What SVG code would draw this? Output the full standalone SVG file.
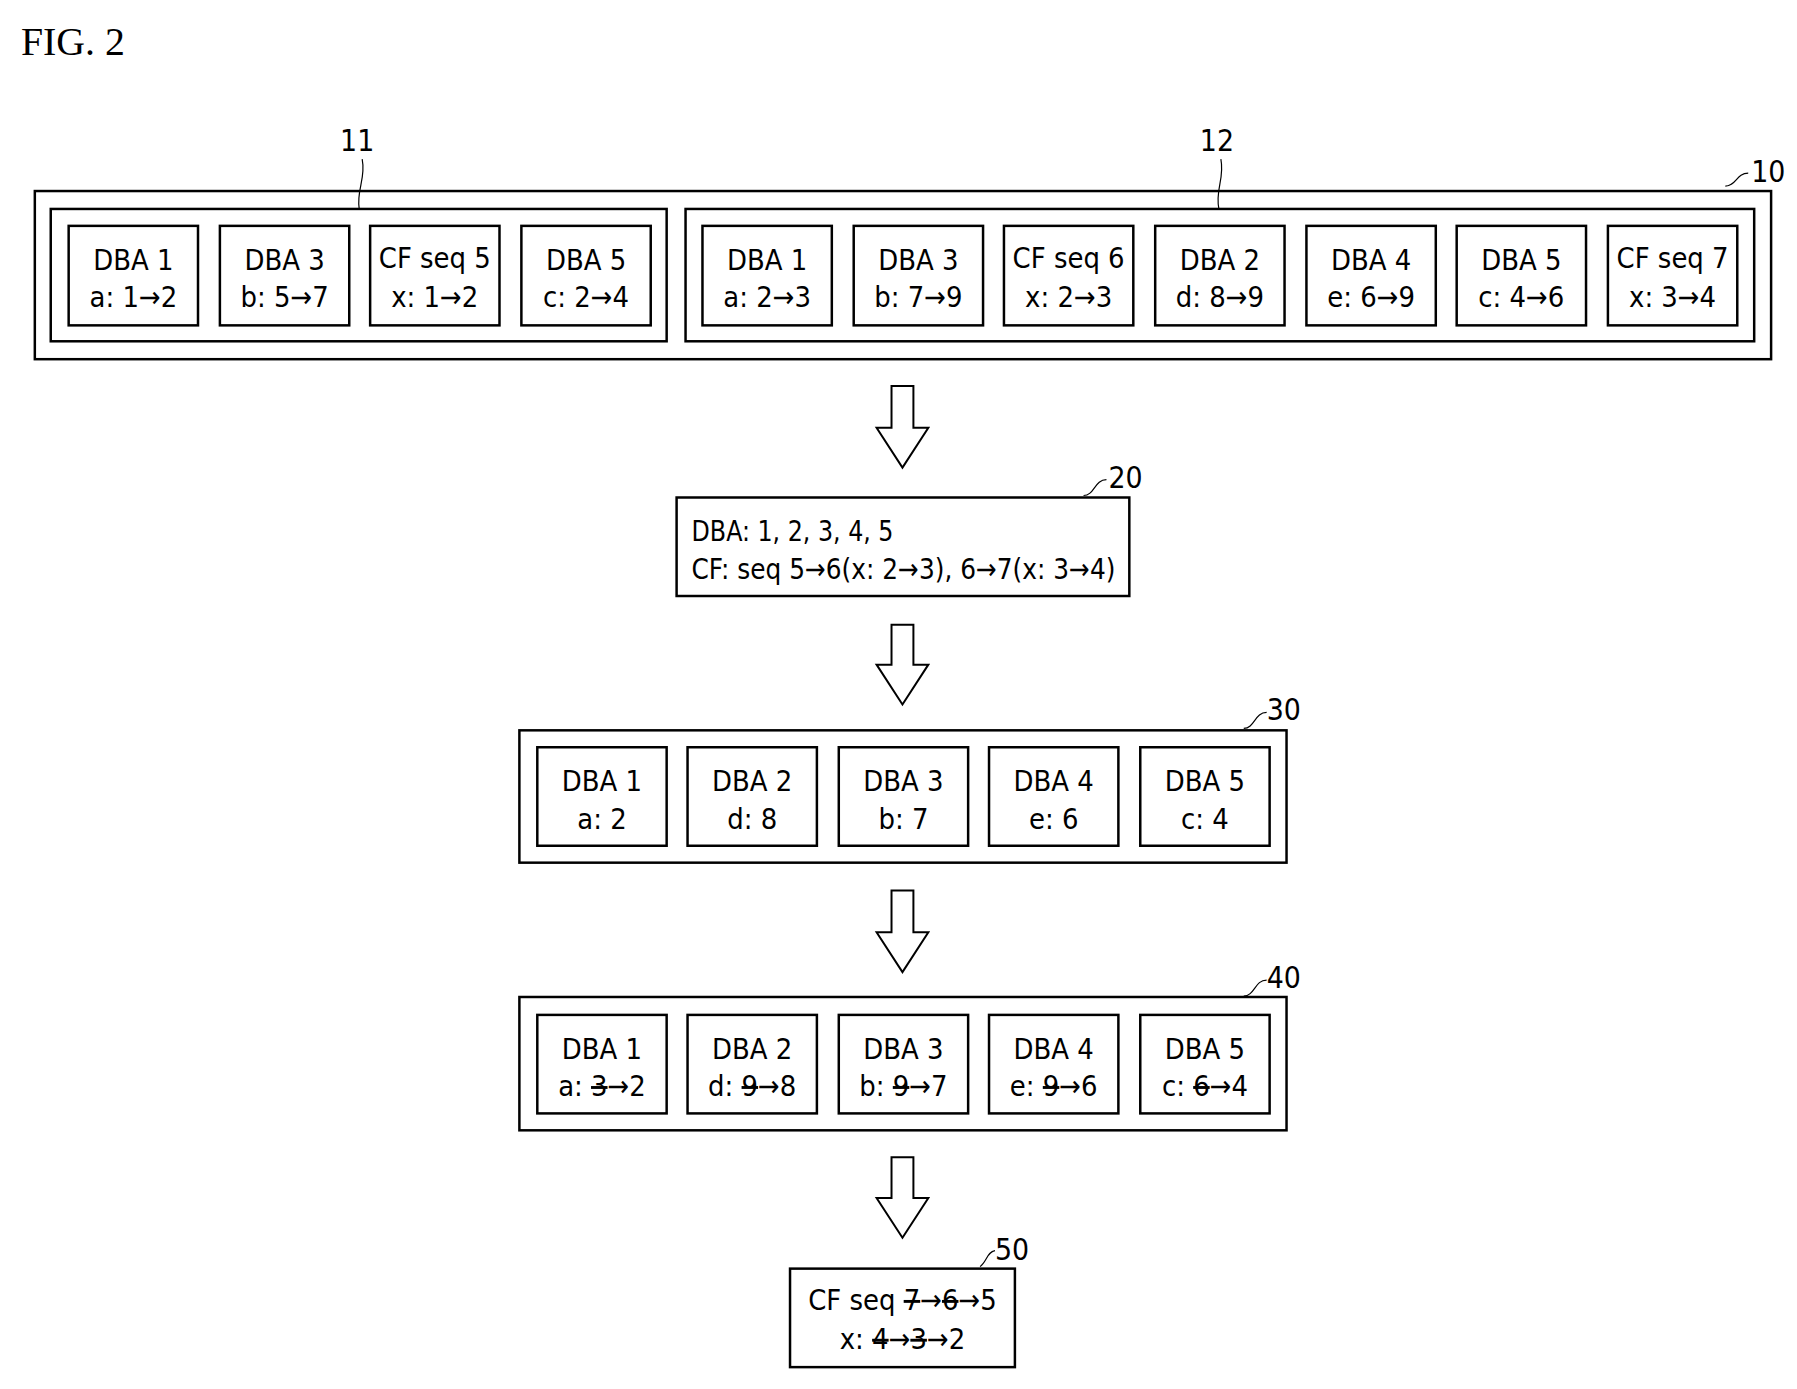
<svg xmlns="http://www.w3.org/2000/svg" width="1797" height="1389" viewBox="0 0 1797 1389">
<style>
rect{fill:#fff;stroke:#000;stroke-width:2.5}
text{font-family:"DejaVu Sans Condensed","Liberation Sans Narrow","DejaVu Sans",sans-serif;font-stretch:condensed;font-size:29px;fill:#000}
.c{text-anchor:middle}
.lbl{font-size:30px}
.ld{fill:none;stroke:#000;stroke-width:1.2}
.ar{fill:#fff;stroke:#000;stroke-width:2}
.s{text-decoration:line-through}
</style>
<rect width="1797" height="1389" style="stroke:none"/>
<g transform="scale(0.995)">
<text x="21" y="55" style="font-family:'Liberation Serif',serif;font-size:40px;font-stretch:normal">FIG. 2</text>
<g id="n10">
<rect x="35" y="192" width="1745" height="169"/>
<text class="lbl" x="1760" y="183">10</text>
<path class="ld" d="M1734,187 C1745,187 1745,174 1757,174"/>
</g>
<g id="n11">
<rect x="51" y="210" width="619" height="133"/>
<text class="lbl c" x="359" y="152">11</text>
<path class="ld" d="M364,160 C368,180 358,190 361,210"/>
<g><rect x="69" y="227" width="130" height="100"/><text class="c" x="134" y="271">DBA 1</text><text class="c" x="134" y="309">a: 1→2</text></g>
<g><rect x="221" y="227" width="130" height="100"/><text class="c" x="286" y="271">DBA 3</text><text class="c" x="286" y="309">b: 5→7</text></g>
<g><rect x="372" y="227" width="130" height="100"/><text class="c" x="437" y="269">CF seq 5</text><text class="c" x="437" y="309">x: 1→2</text></g>
<g><rect x="524" y="227" width="130" height="100"/><text class="c" x="589" y="271">DBA 5</text><text class="c" x="589" y="309">c: 2→4</text></g>
</g>
<g id="n12">
<rect x="689" y="210" width="1074" height="133"/>
<text class="lbl c" x="1223" y="152">12</text>
<path class="ld" d="M1227,160 C1231,180 1221,190 1225,210"/>
<g><rect x="706" y="227" width="130" height="100"/><text class="c" x="771" y="271">DBA 1</text><text class="c" x="771" y="309">a: 2→3</text></g>
<g><rect x="858" y="227" width="130" height="100"/><text class="c" x="923" y="271">DBA 3</text><text class="c" x="923" y="309">b: 7→9</text></g>
<g><rect x="1009" y="227" width="130" height="100"/><text class="c" x="1074" y="269">CF seq 6</text><text class="c" x="1074" y="309">x: 2→3</text></g>
<g><rect x="1161" y="227" width="130" height="100"/><text class="c" x="1226" y="271">DBA 2</text><text class="c" x="1226" y="309">d: 8→9</text></g>
<g><rect x="1313" y="227" width="130" height="100"/><text class="c" x="1378" y="271">DBA 4</text><text class="c" x="1378" y="309">e: 6→9</text></g>
<g><rect x="1464" y="227" width="130" height="100"/><text class="c" x="1529" y="271">DBA 5</text><text class="c" x="1529" y="309">c: 4→6</text></g>
<g><rect x="1616" y="227" width="130" height="100"/><text class="c" x="1681" y="269">CF seq 7</text><text class="c" x="1681" y="309">x: 3→4</text></g>
</g>
<g id="connectors">
<path class="ar" d="M896,388 H918 V430 H933 L907,470 L881,430 H896 Z"/>
<path class="ar" d="M896,628 H918 V668 H933 L907,708 L881,668 H896 Z"/>
<path class="ar" d="M896,895 H918 V937 H933 L907,977 L881,937 H896 Z"/>
<path class="ar" d="M896,1163 H918 V1204 H933 L907,1244 L881,1204 H896 Z"/>
</g>
<g id="n20">
<rect x="680" y="500" width="455" height="99"/>
<text x="695" y="544" textLength="203" lengthAdjust="spacingAndGlyphs">DBA: 1, 2, 3, 4, 5</text>
<text x="695" y="582" textLength="426" lengthAdjust="spacingAndGlyphs">CF: seq 5→6(x: 2→3), 6→7(x: 3→4)</text>
<text class="lbl" x="1114" y="490">20</text>
<path class="ld" d="M1089,498 C1100,498 1100,482 1112,482"/>
</g>
<g id="n30">
<rect x="522" y="734" width="771" height="133"/>
<text class="lbl" x="1273" y="724">30</text>
<path class="ld" d="M1250,732 C1261,732 1261,716 1273,716"/>
<g><rect x="540" y="751" width="130" height="99"/><text class="c" x="605" y="795">DBA 1</text><text class="c" x="605" y="833">a: 2</text></g>
<g><rect x="691" y="751" width="130" height="99"/><text class="c" x="756" y="795">DBA 2</text><text class="c" x="756" y="833">d: 8</text></g>
<g><rect x="843" y="751" width="130" height="99"/><text class="c" x="908" y="795">DBA 3</text><text class="c" x="908" y="833">b: 7</text></g>
<g><rect x="994" y="751" width="130" height="99"/><text class="c" x="1059" y="795">DBA 4</text><text class="c" x="1059" y="833">e: 6</text></g>
<g><rect x="1146" y="751" width="130" height="99"/><text class="c" x="1211" y="795">DBA 5</text><text class="c" x="1211" y="833">c: 4</text></g>
</g>
<g id="n40">
<rect x="522" y="1002" width="771" height="134"/>
<text class="lbl" x="1273" y="993">40</text>
<path class="ld" d="M1250,1001 C1261,1001 1261,985 1273,985"/>
<g><rect x="540" y="1020" width="130" height="99"/><text class="c" x="605" y="1064">DBA 1</text><text class="c" x="605" y="1102">a: <tspan class="s">3</tspan>→2</text></g>
<g><rect x="691" y="1020" width="130" height="99"/><text class="c" x="756" y="1064">DBA 2</text><text class="c" x="756" y="1102">d: <tspan class="s">9</tspan>→8</text></g>
<g><rect x="843" y="1020" width="130" height="99"/><text class="c" x="908" y="1064">DBA 3</text><text class="c" x="908" y="1102">b: <tspan class="s">9</tspan>→7</text></g>
<g><rect x="994" y="1020" width="130" height="99"/><text class="c" x="1059" y="1064">DBA 4</text><text class="c" x="1059" y="1102">e: <tspan class="s">9</tspan>→6</text></g>
<g><rect x="1146" y="1020" width="130" height="99"/><text class="c" x="1211" y="1064">DBA 5</text><text class="c" x="1211" y="1102">c: <tspan class="s">6</tspan>→4</text></g>
</g>
<g id="n50">
<rect x="794" y="1275" width="226" height="99"/>
<text class="c" x="907" y="1317">CF seq <tspan class="s">7</tspan>→<tspan class="s">6</tspan>→5</text>
<text class="c" x="907" y="1356">x: <tspan class="s">4</tspan>→<tspan class="s">3</tspan>→2</text>
<text class="lbl" x="1000" y="1266">50</text>
<path class="ld" d="M985,1273 C992,1268 992,1258 1000,1257"/>
</g>
</g>
</svg>
